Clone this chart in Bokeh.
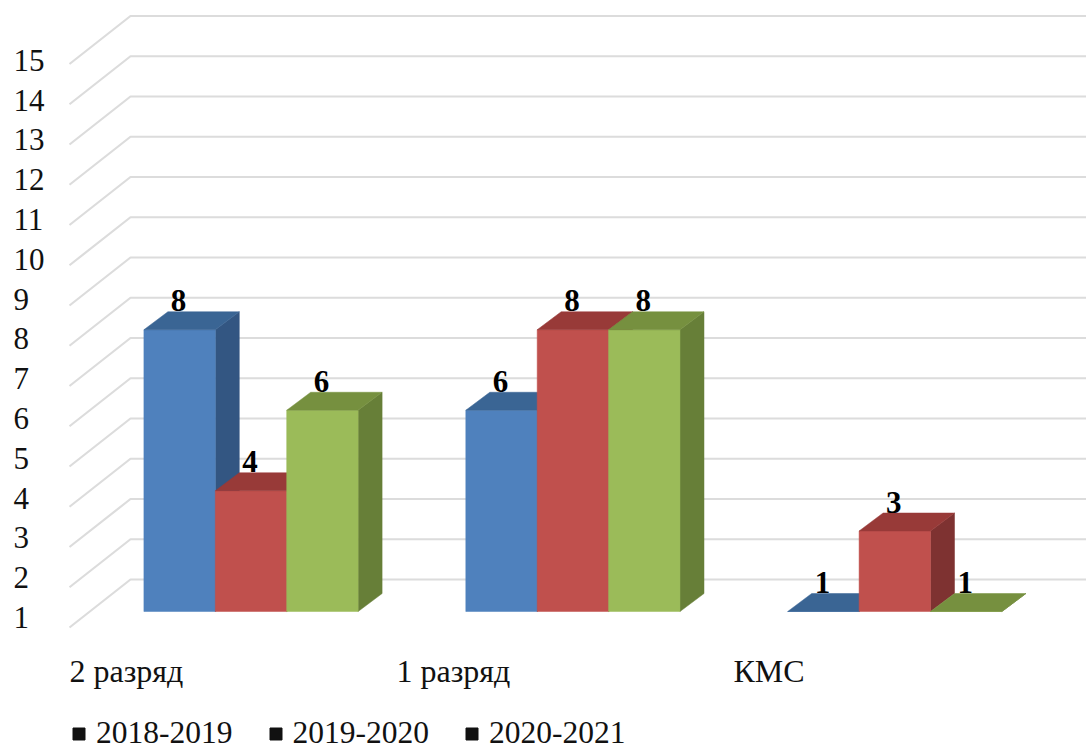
from bokeh.plotting import figure
from bokeh.models import Range1d, Legend, LegendItem
from bokeh.core.properties import value
from bokeh.embed import file_html
from bokeh.resources import INLINE

categories = ["2 разряд", "1 разряд", "КМС"]
series_names = ["2018-2019", "2019-2020", "2020-2021"]
s2018 = [8, 6, 1]
s2019 = [4, 8, 3]
s2020 = [6, 8, 1]
ticks = list(range(1, 16))

front_colors = ["#4F81BD", "#C0504D", "#9BBB59"]
top_colors = ["#3A6594", "#983A38", "#76903F"]
side_colors = ["#335682", "#7E3231", "#677F38"]

FONT = "Liberation Serif"
W, H = 1086, 751
PX_X = 321.9
PX_Y = 40.25
CAT0_PX = 250.5
BASE_PX = 611
CAT_LABEL_PX = [69, 396, 733]


def xc(px):
    return (px - CAT0_PX) / PX_X


def yc(px):
    return (BASE_PX - px) / PX_Y + 1


BAR_W = 71.4 / PX_X
DX = 24 / PX_X
DY = 18 / PX_Y
WALL_DX = 61 / PX_X
WALL_DY = 32 / PX_Y
FLOOR_DY = -16 / PX_Y
LABEL_DY = 11 / PX_Y

p = figure(width=W, height=H, output_backend="svg", toolbar_location=None,
           x_axis_location=None, y_axis_location=None,
           x_range=Range1d(xc(0), xc(W)), y_range=Range1d(yc(H), yc(0)),
           min_border_left=0, min_border_right=0, min_border_top=0, min_border_bottom=0,
           outline_line_color=None, background_fill_color="white", border_fill_color="white")
p.grid.visible = False

# back wall grid + floor diagonals
x_left = xc(69)
x_wall = x_left + WALL_DX
x_right = xc(W)
p.multi_line(xs=[[x_left, x_wall, x_right] for _ in ticks],
             ys=[[v + FLOOR_DY, v + WALL_DY, v + WALL_DY] for v in ticks],
             line_color="#DCDCDC", line_width=2.2)

series = [s2018, s2019, s2020]
lx, ly, lt = [], [], []
for c in range(len(categories)):
    for s, vals in enumerate(series):
        v = vals[c]
        x0 = c + (s - 1.5) * BAR_W
        x1 = x0 + BAR_W
        p.patch([x1, x1 + DX, x1 + DX, x1], [1, 1 + DY, v + DY, v],
                fill_color=side_colors[s], line_color=side_colors[s], line_width=0.5)
        p.patch([x0, x1, x1, x0], [1, 1, v, v],
                fill_color=front_colors[s], line_color=front_colors[s], line_width=0.5)
        p.patch([x0, x1, x1 + DX, x0 + DX], [v, v, v + DY, v + DY],
                fill_color=top_colors[s], line_color=top_colors[s], line_width=0.5)
        lx.append((x0 + x1) / 2 - 1 / PX_X)
        ly.append(v + DY + LABEL_DY)
        lt.append(str(v))

p.text(lx, ly, text=lt, text_align="center", text_baseline="middle",
       text_font=value(FONT), text_font_style="bold", text_font_size="31px", text_color="#000000")

# value-axis labels, left aligned as in the picture
p.text([xc(13)] * len(ticks), [yc(617 - (t - 1) * 39.8) for t in ticks], text=[str(t) for t in ticks],
       text_align="left", text_baseline="middle",
       text_font=value(FONT), text_font_size="31px", text_color="#111111")

# category labels, left aligned
p.text([xc(px) for px in CAT_LABEL_PX], [yc(670)] * len(categories), text=categories,
       text_align="left", text_baseline="middle",
       text_font=value(FONT), text_font_size="32px", text_color="#111111")

# legend: black squares, as in the picture
nan = float("nan")
items = []
for name in series_names:
    r = p.quad(left=[nan], right=[nan], top=[nan], bottom=[nan], fill_color="#111111", line_color="#111111")
    items.append(LegendItem(label=name, renderers=[r]))
legend = Legend(items=items, orientation="horizontal", location=(71, 0),
                glyph_width=15, glyph_height=15, label_standoff=10, spacing=35,
                padding=0, margin=0, border_line_color=None, background_fill_alpha=0,
                label_text_font=FONT, label_text_font_size="31.5px", label_text_color="#111111")
p.add_layout(legend)

open("out.html", "w").write(file_html(p, INLINE))
